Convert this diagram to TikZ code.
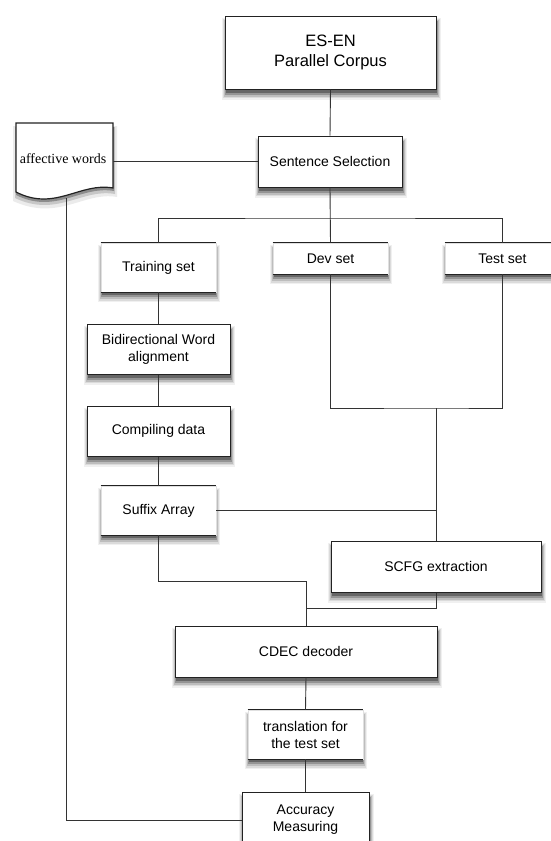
\documentclass[tikz,border=0pt]{standalone}
\usepackage{fontspec}
\setmainfont{Liberation Sans}
\newfontfamily\timesf{Liberation Serif}
\usetikzlibrary{calc,backgrounds}
\definecolor{linec}{HTML}{333333}
\definecolor{boxc}{HTML}{222222}
\tikzset{
  fullbox/.style={rectangle,draw=boxc,line width=1pt,fill=white,inner sep=0pt,align=center,font=\fontsize{14}{17}\selectfont},
  openbox/.style={rectangle,draw=black!12,line width=0.6pt,fill=white,inner sep=0pt,align=center,font=\fontsize{14}{17}\selectfont},
  conn/.style={draw=linec,line width=0.9pt},
  edge/.style={draw=boxc,line width=1pt}
}
\newcommand{\myshadow}[1]{%
  \fill[black!6] ($(#1.north west)+(-3,2)$) rectangle ($(#1.south east)+(4,10)$);
  \fill[black!14] ($(#1.north west)+(-2,3)$) rectangle ($(#1.south east)+(3,8.5)$);
  \fill[black!26] ($(#1.north west)+(-1,4)$) rectangle ($(#1.south east)+(2,7)$);
  \fill[black!42] ($(#1.north west)+(0,5)$) rectangle ($(#1.south east)+(1,5)$);
  \fill[black!60] ($(#1.north west)+(1,5)$) rectangle ($(#1.south east)+(0,3)$);
}
\begin{document}
\begin{tikzpicture}[x=1pt,y=-1pt]
\useasboundingbox (0,0) rectangle (551,841);
\coordinate (jn) at (330,218);
\coordinate (dt) at (436,408);
\coordinate (m1) at (306,581);
\coordinate (m2) at (306,608);
\coordinate (affb) at (66,198);
\coordinate (affr) at (113,161.5);

% affective words document shadow + shape
\fill[black!8] (13,126) -- (117,126) -- (117,197) .. controls (84,191) and (59,222) .. (13,201) -- cycle;
\fill[black!22] (15,127) -- (115,127) -- (115,194) .. controls (82,188) and (57,218) .. (15,198) -- cycle;
\fill[black!45] (16,127) -- (114,127) -- (114,191) .. controls (81,185) and (56,215) .. (16,195) -- cycle;
\draw[edge,line width=1.2pt,fill=white] (16,123) -- (113,123) -- (113,188) .. controls (80,182) and (55,212) .. (16,192) -- cycle;
\node[inner sep=0pt,font=\timesf\fontsize{14}{17}\selectfont] (aff) at (63,159) {affective words};

% boxes
\node[fullbox,minimum width=211,minimum height=73,font=\fontsize{16.5}{20}\selectfont] (es) at (330.5,52.5) {ES-EN\\Parallel Corpus};
\node[fullbox,minimum width=144,minimum height=51] (ss) at (330,161.5) {Sentence Selection};
\node[openbox,minimum width=115,minimum height=49] (tr) at (158.5,267.5) {Training set};
\node[openbox,minimum width=115,minimum height=31] (dev) at (330.5,258.5) {Dev set};
\node[openbox,minimum width=115,minimum height=31] (test) at (502.5,258.5) {Test set};
\node[fullbox,minimum width=143,minimum height=50] (bwa) at (158.5,349) {Bidirectional Word\\alignment};
\node[fullbox,minimum width=143,minimum height=50] (comp) at (158.5,431) {Compiling data};
\node[openbox,minimum width=115,minimum height=49] (suf) at (158.5,510.5) {Suffix Array};
\node[fullbox,minimum width=210,minimum height=51] (scfg) at (436,566.5) {SCFG extraction};
\node[fullbox,minimum width=262,minimum height=51] (cdec) at (306,651.5) {CDEC decoder};
\node[openbox,minimum width=115,minimum height=49] (trn) at (305.5,734.5) {translation for\\the test set};
\node[fullbox,minimum width=127,minimum height=56] (acc) at (305.5,820) {Accuracy\\Measuring};

\begin{scope}[on background layer]
\myshadow{es}\myshadow{ss}\myshadow{tr}\myshadow{dev}\myshadow{test}\myshadow{bwa}
\myshadow{comp}\myshadow{suf}\myshadow{scfg}\myshadow{cdec}\myshadow{trn}\myshadow{acc}
\end{scope}

\foreach \n in {tr,dev,test,suf,trn}{
  \draw[edge] (\n.north west) -- (\n.north east);
  \draw[edge] (\n.south west) -- (\n.south east);
}

% connectors
\draw[conn] (es.south) -- (ss.north);
\draw[conn] (affr) -- (ss.west);
\draw[conn] (ss.south) -- (dev.north);
\draw[conn] (tr.north) |- (jn) -| (test.north);
\draw[conn] (tr.south) -- (bwa.north);
\draw[conn] (bwa.south) -- (comp.north);
\draw[conn] (comp.south) -- (suf.north);
\draw[conn] (dev.south) |- (dt) -| (test.south);
\draw[conn] (dt) -- (scfg.north);
\draw[conn] (suf.east) -- (suf.east -| scfg.north);
\draw[conn] (suf.south) |- (m1) -- (cdec.north);
\draw[conn] (scfg.south) |- (m2);
\draw[conn] (cdec.south) -- (trn.north);
\draw[conn] (trn.south) -- (acc.north);
\draw[conn] (affb) |- (acc.west);
\end{tikzpicture}
\end{document}
